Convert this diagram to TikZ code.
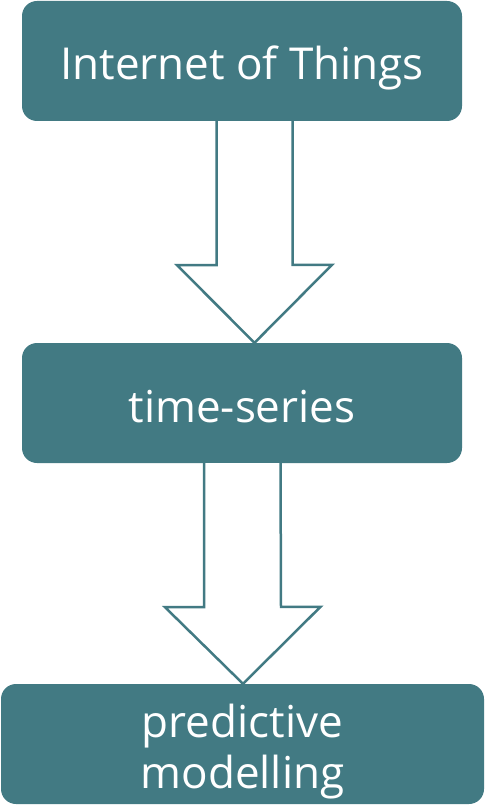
\documentclass[tikz,border=0pt]{standalone}
\usepackage{fontspec}
\setmainfont{Open Sans}
\definecolor{teal}{HTML}{427A83}
\begin{document}
\begin{tikzpicture}[x=1pt,y=-1pt,
  stage/.style={fill=teal, rounded corners=15pt, inner sep=0pt, text=white,
    minimum height=120pt, font=\fontsize{44}{51}\selectfont, align=center},
  oneline/.style={text height=38pt, text depth=0pt},
  flow/.style={draw=teal, line width=2.5pt, fill=white, line join=miter}]
\useasboundingbox (0,0) rectangle (487,805);
% three stages
\node[stage, oneline, minimum width=440pt] (iot) at (242,61) {Internet of Things};
\node[stage, oneline, minimum width=440pt] (ts) at (242,403) {time-series};
\node[stage, minimum width=483pt, text height=88pt, text depth=0pt] (pm) at (242.5,744) {predictive\\modelling};
% block arrows between the stages
\coordinate (s1) at ([xshift=12.5pt]iot.south);
\coordinate (t1) at ([xshift=12.5pt]ts.north);
\draw[flow] ([xshift=-38pt]s1) -- ++(0,144) -- ++(-39.5,0) -- (t1)
  -- ++(77.5,-78) -- ++(-39.5,0) -- ([xshift=38pt]s1);
\coordinate (s2) at ([xshift=0.25pt]ts.south);
\coordinate (t2) at ([xshift=0.5pt]pm.north);
\draw[flow] ([xshift=-38.25pt]s2) -- ++(0,144) -- ++(-39pt,0) -- (t2)
  -- ++(77.5,-77) -- ++(-39.5,0) -- ([xshift=38.25pt]s2);
\end{tikzpicture}
\end{document}
